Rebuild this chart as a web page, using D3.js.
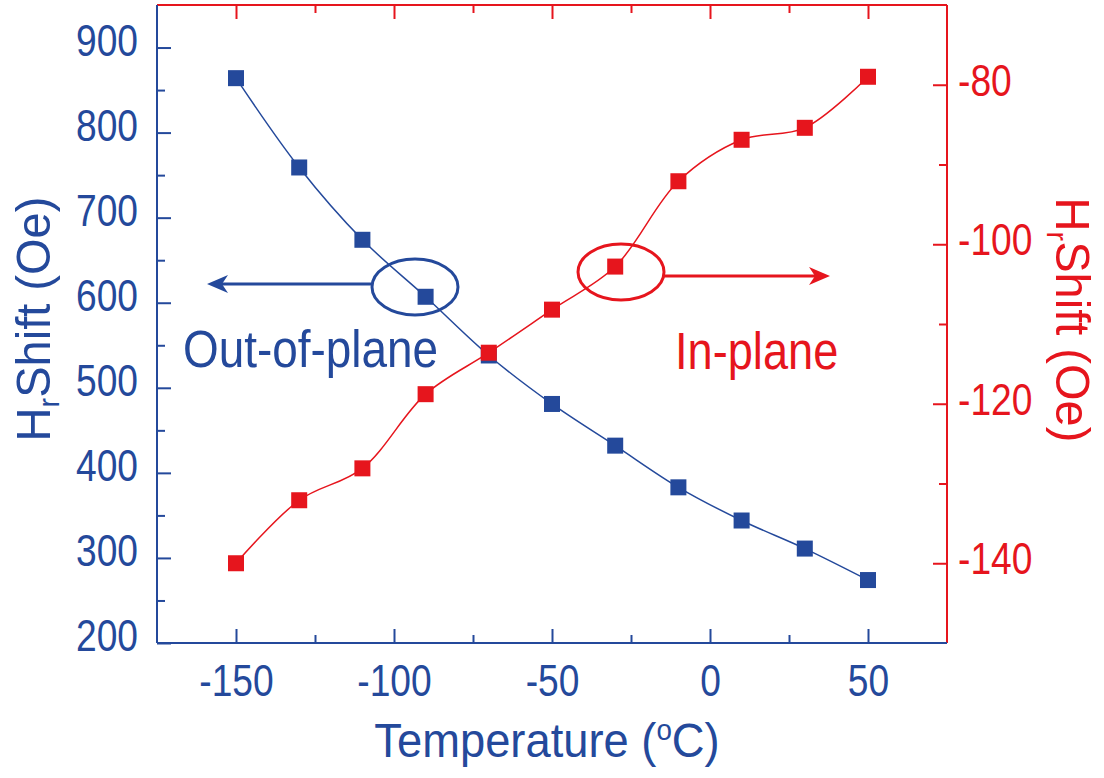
<!DOCTYPE html>
<html>
<head>
<meta charset="utf-8">
<script src="https://cdn.jsdelivr.net/npm/d3@7"></script>
<style>
  html, body { margin: 0; padding: 0; background: #fff; }
  svg text { font-family: "Liberation Sans", Arial, Helvetica, sans-serif; }
</style>
</head>
<body>
<svg id="chart" width="1104" height="778"></svg>
<script>
// Temperature sweep (°C)
const temperatures = [-150, -130, -110, -90, -70, -50, -30, -10, 10, 30, 50];
// Resonance-field shift, out-of-plane geometry (Oe), left axis
const outOfPlane = [864, 759, 674, 607, 538, 481, 432, 383, 344, 311, 274];
// Resonance-field shift, in-plane geometry (Oe), right axis
const inPlane = [-140.0, -132.1, -128.1, -118.8, -113.6, -108.2, -102.8, -92.1, -86.9, -85.4, -79.0];

const xTicks = [-150, -100, -50, 0, 50];
const xMinorTicks = [-125, -75, -25, 25];
const leftTicks = [200, 300, 400, 500, 600, 700, 800, 900];
const leftMinorTicks = [250, 350, 450, 550, 650, 750, 850];
const rightTicks = [-140, -120, -100, -80];
const rightMinorTicks = [-130, -110, -90];

const BLUE = "#24499b";
const RED = "#e6151d";

const svg = d3.select("#chart");
const plotLeft = 157, plotRight = 947, plotTop = 5, plotBottom = 643;

const x = d3.scaleLinear().domain([-175, 75]).range([plotLeft, plotRight]);
const yL = d3.scaleLinear().domain([200, 950]).range([plotBottom, plotTop]);
const yR = d3.scaleLinear().domain([-150, -70]).range([plotBottom, plotTop]);

const MAJOR = 14, MINOR = 8, FS = 44, NARROW = 0.845;
const plainNum = d => String(d);   // hyphen-minus, as printed on the figure

// condensed look: squeeze each tick label horizontally
function narrowLabels(g) {
  g.selectAll(".tick text").each(function () {
    const w = this.getComputedTextLength();
    d3.select(this).attr("textLength", w * NARROW).attr("lengthAdjust", "spacingAndGlyphs");
  });
}

function styleAxis(g, color) {
  g.select(".domain").remove();
  g.selectAll(".tick line").attr("stroke", color).attr("stroke-width", 2);
  g.selectAll(".tick text").attr("fill", color).attr("font-size", FS);
}

// ---- axes ticks (inward) ----
// bottom
const gB = svg.append("g").attr("transform", `translate(0,${plotBottom})`)
  .call(d3.axisBottom(x).tickValues(xTicks).tickSize(-MAJOR).tickPadding(22).tickFormat(plainNum));
styleAxis(gB, BLUE);
narrowLabels(gB);
svg.append("g").attr("transform", `translate(0,${plotBottom})`)
  .call(d3.axisBottom(x).tickValues(xMinorTicks).tickSize(-MINOR).tickFormat(""))
  .call(g => styleAxis(g, BLUE));

// top
svg.append("g").attr("transform", `translate(0,${plotTop})`)
  .call(d3.axisTop(x).tickValues(xTicks).tickSize(-MAJOR).tickFormat(""))
  .call(g => styleAxis(g, RED));
svg.append("g").attr("transform", `translate(0,${plotTop})`)
  .call(d3.axisTop(x).tickValues(xMinorTicks).tickSize(-MINOR).tickFormat(""))
  .call(g => styleAxis(g, RED));

// left
const gL = svg.append("g").attr("transform", `translate(${plotLeft},0)`)
  .call(d3.axisLeft(yL).tickValues(leftTicks).tickSize(-MAJOR).tickPadding(19).tickFormat(plainNum));
styleAxis(gL, BLUE);
gL.selectAll(".tick text").attr("dy", "0.17em");
narrowLabels(gL);
svg.append("g").attr("transform", `translate(${plotLeft},0)`)
  .call(d3.axisLeft(yL).tickValues(leftMinorTicks).tickSize(-MINOR).tickFormat(""))
  .call(g => styleAxis(g, BLUE));

// right
const gR = svg.append("g").attr("transform", `translate(${plotRight},0)`)
  .call(d3.axisRight(yR).tickValues(rightTicks).tickSize(-MAJOR).tickPadding(11).tickFormat(plainNum));
styleAxis(gR, RED);
gR.selectAll(".tick text").attr("dy", "0.24em");
narrowLabels(gR);
svg.append("g").attr("transform", `translate(${plotRight},0)`)
  .call(d3.axisRight(yR).tickValues(rightMinorTicks).tickSize(-MINOR).tickFormat(""))
  .call(g => styleAxis(g, RED));

// frame lines
svg.append("line").attr("x1", plotLeft).attr("x2", plotRight).attr("y1", plotTop).attr("y2", plotTop)
  .attr("stroke", RED).attr("stroke-width", 2);
svg.append("line").attr("x1", plotRight).attr("x2", plotRight).attr("y1", plotTop).attr("y2", plotBottom)
  .attr("stroke", RED).attr("stroke-width", 2);
svg.append("line").attr("x1", plotLeft).attr("x2", plotRight).attr("y1", plotBottom).attr("y2", plotBottom)
  .attr("stroke", BLUE).attr("stroke-width", 2);
svg.append("line").attr("x1", plotLeft).attr("x2", plotLeft).attr("y1", plotTop).attr("y2", plotBottom)
  .attr("stroke", BLUE).attr("stroke-width", 2);

// ---- series ----
const SQ = 16;
function drawSeries(values, yScale, color) {
  const pts = temperatures.map((t, i) => [x(t), yScale(values[i])]);
  svg.append("path")
    .attr("d", d3.line().curve(d3.curveCatmullRom.alpha(0.5))(pts))
    .attr("fill", "none").attr("stroke", color).attr("stroke-width", 1.5);
  svg.append("g").selectAll("rect").data(pts).join("rect")
    .attr("x", d => d[0] - SQ / 2).attr("y", d => d[1] - SQ / 2)
    .attr("width", SQ).attr("height", SQ).attr("fill", color);
}
drawSeries(outOfPlane, yL, BLUE);
drawSeries(inPlane, yR, RED);

// ---- annotations: ellipse + arrow pointing to the matching axis ----
function arrow(x0, x1, y, color) {
  const dir = Math.sign(x1 - x0);
  svg.append("line").attr("x1", x0).attr("x2", x1 - dir * 14).attr("y1", y).attr("y2", y)
    .attr("stroke", color).attr("stroke-width", 3);
  const L = 21, H = 9, N = 15;
  svg.append("path")
    .attr("d", `M${x1},${y} L${x1 - dir * L},${y - H} L${x1 - dir * N},${y} L${x1 - dir * L},${y + H} Z`)
    .attr("fill", color);
}
svg.append("ellipse").attr("cx", 415).attr("cy", 287).attr("rx", 43).attr("ry", 28)
  .attr("fill", "none").attr("stroke", BLUE).attr("stroke-width", 3);
arrow(372, 207, 284, BLUE);

svg.append("ellipse").attr("cx", 621).attr("cy", 272).attr("rx", 43).attr("ry", 28)
  .attr("fill", "none").attr("stroke", RED).attr("stroke-width", 3);
arrow(664, 830, 276, RED);

svg.append("text").attr("transform", "translate(183,367) scale(0.90,1)")
  .attr("fill", BLUE).attr("font-size", 51).text("Out-of-plane");
svg.append("text").attr("transform", "translate(675,369) scale(0.886,1)")
  .attr("fill", RED).attr("font-size", 51).text("In-plane");

// ---- axis titles ----
const xt = svg.append("text").attr("transform", "translate(547,757) scale(0.925,1)")
  .attr("text-anchor", "middle").attr("fill", BLUE).attr("font-size", 49);
xt.append("tspan").text("Temperature (");
xt.append("tspan").attr("font-size", 30).attr("dy", -17).text("o");
xt.append("tspan").attr("dy", 17).text("C)");

function yTitle(tx, ty, rot, color) {
  const t = svg.append("text").attr("transform", `translate(${tx},${ty}) rotate(${rot}) scale(0.96,1)`)
    .attr("text-anchor", "middle").attr("fill", color).attr("font-size", 49);
  t.append("tspan").text("H");
  t.append("tspan").attr("font-size", 30).attr("dy", 9).text("r");
  t.append("tspan").attr("dy", -9).text("Shift (Oe)");
}
yTitle(50, 319, -90, BLUE);
yTitle(1056, 320, 90, RED);
</script>
</body>
</html>
